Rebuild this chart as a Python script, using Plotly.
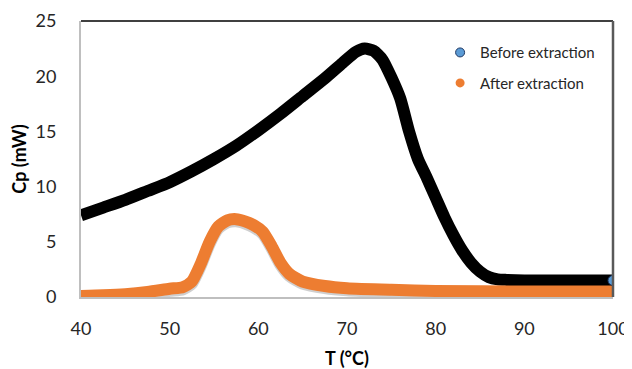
import plotly.graph_objects as go

# Before extraction (black curve)
t_before = [40, 42.5, 45, 47.5, 50, 52.5, 55, 57.5, 60, 62.5, 65, 67.5, 69.5, 71, 72, 73, 74, 75, 76, 77, 78, 79, 80, 81, 82, 83, 84, 85, 86, 87, 88, 90, 95, 100]
cp_before = [7.4, 8.1, 8.8, 9.6, 10.4, 11.4, 12.5, 13.7, 15.1, 16.6, 18.2, 19.8, 21.2, 22.2, 22.5, 22.3, 21.5, 19.9, 18.0, 15.0, 12.5, 10.8, 9.0, 7.2, 5.6, 4.2, 3.1, 2.3, 1.8, 1.6, 1.55, 1.5, 1.5, 1.5]

# After extraction (orange curve)
t_after = [40, 42.5, 45, 47.5, 50, 51.5, 52.5, 53.5, 54.5, 55.5, 56.5, 57.5, 58.5, 59.5, 60.5, 61.5, 62.5, 63.5, 65, 67.5, 70, 75, 80, 90, 100]
cp_after = [0.1, 0.15, 0.25, 0.45, 0.75, 0.9, 1.4, 3.0, 5.0, 6.4, 6.95, 7.05, 6.85, 6.5, 5.9, 4.6, 3.1, 2.1, 1.4, 1.0, 0.8, 0.65, 0.55, 0.5, 0.5]

BLUE = "#5B9BD5"
ORANGE = "#ED7D31"
FONT = "Lato"
LINE = dict(width=12, shape="spline", smoothing=0.6)

fig = go.Figure()

fig.add_trace(go.Scatter(x=t_before, y=cp_before, mode="lines", line=dict(color="black", **LINE),
                         showlegend=False, yaxis="y"))
# shadow for orange curve (offset axis, drawn below orange)
fig.add_trace(go.Scatter(x=t_after, y=cp_after, mode="lines", line=dict(color="rgba(160,160,160,0.5)", **LINE),
                         yaxis="y2", showlegend=False, hoverinfo="skip"))
fig.add_trace(go.Scatter(x=t_after, y=cp_after, mode="lines", line=dict(color=ORANGE, **LINE),
                         showlegend=False, yaxis="y3"))
# end marker of before curve
fig.add_trace(go.Scatter(x=t_before[-1:], y=cp_before[-1:], mode="markers", yaxis="y3",
                         marker=dict(color=BLUE, size=10, line=dict(color="#1F3864", width=1)), showlegend=False))
# legend entries
fig.add_trace(go.Scatter(x=[None], y=[None], mode="markers", name="Before extraction", legendgroup="a",
                         marker=dict(color=BLUE, size=9, line=dict(color="#1F3864", width=1))))
fig.add_trace(go.Scatter(x=[None], y=[None], mode="markers", name="After extraction", legendgroup="b",
                         marker=dict(color=ORANGE, size=9)))

fig.update_layout(
    width=624, height=361,
    margin=dict(l=73, r=19, t=13, b=72),
    paper_bgcolor="white", plot_bgcolor="white",
    font=dict(family=FONT, color="#262626"),
    showlegend=True,
    legend=dict(x=0.675, y=0.945, xanchor="left", yanchor="top", font=dict(size=15, family=FONT, color="#262626"),
                bgcolor="rgba(0,0,0,0)", tracegroupgap=8, itemwidth=30, traceorder="grouped"),
    xaxis=dict(range=[40, 100], tickvals=[40, 50, 60, 70, 80, 90, 100], showgrid=False, zeroline=False, automargin=False,
               showline=True, linecolor="#BFBFBF", linewidth=2, ticks="", tickfont=dict(size=18, family=FONT, color="#262626"),
               ticklabelstandoff=14,
               title=dict(text="<b>T (°C)</b>", font=dict(size=18, family=FONT, color="black"), standoff=16)),
    yaxis=dict(range=[0, 25], tickvals=[0, 5, 10, 15, 20, 25], showgrid=False, zeroline=False, automargin=False,
               showline=True, linecolor="#BFBFBF", linewidth=2, ticks="outside", ticklen=5, tickcolor="rgba(0,0,0,0)",
               tickfont=dict(size=18, family=FONT, color="#262626"),
               ticklabelstandoff=14,
               title=dict(text="<b>Cp (mW)</b>", font=dict(size=18, family=FONT, color="black"), standoff=4)),
    yaxis2=dict(range=[0.2, 25.2], overlaying="y", visible=False),
    yaxis3=dict(range=[0, 25], overlaying="y", visible=False),
    shapes=[
        dict(type="line", xref="paper", yref="paper", x0=0, x1=1, y0=1, y1=1, line=dict(color="black", width=1.5)),
        dict(type="line", xref="paper", yref="paper", x0=1, x1=1, y0=0, y1=1, line=dict(color="#595959", width=2.5)),
    ],
)

fig.write_html("out.html")
